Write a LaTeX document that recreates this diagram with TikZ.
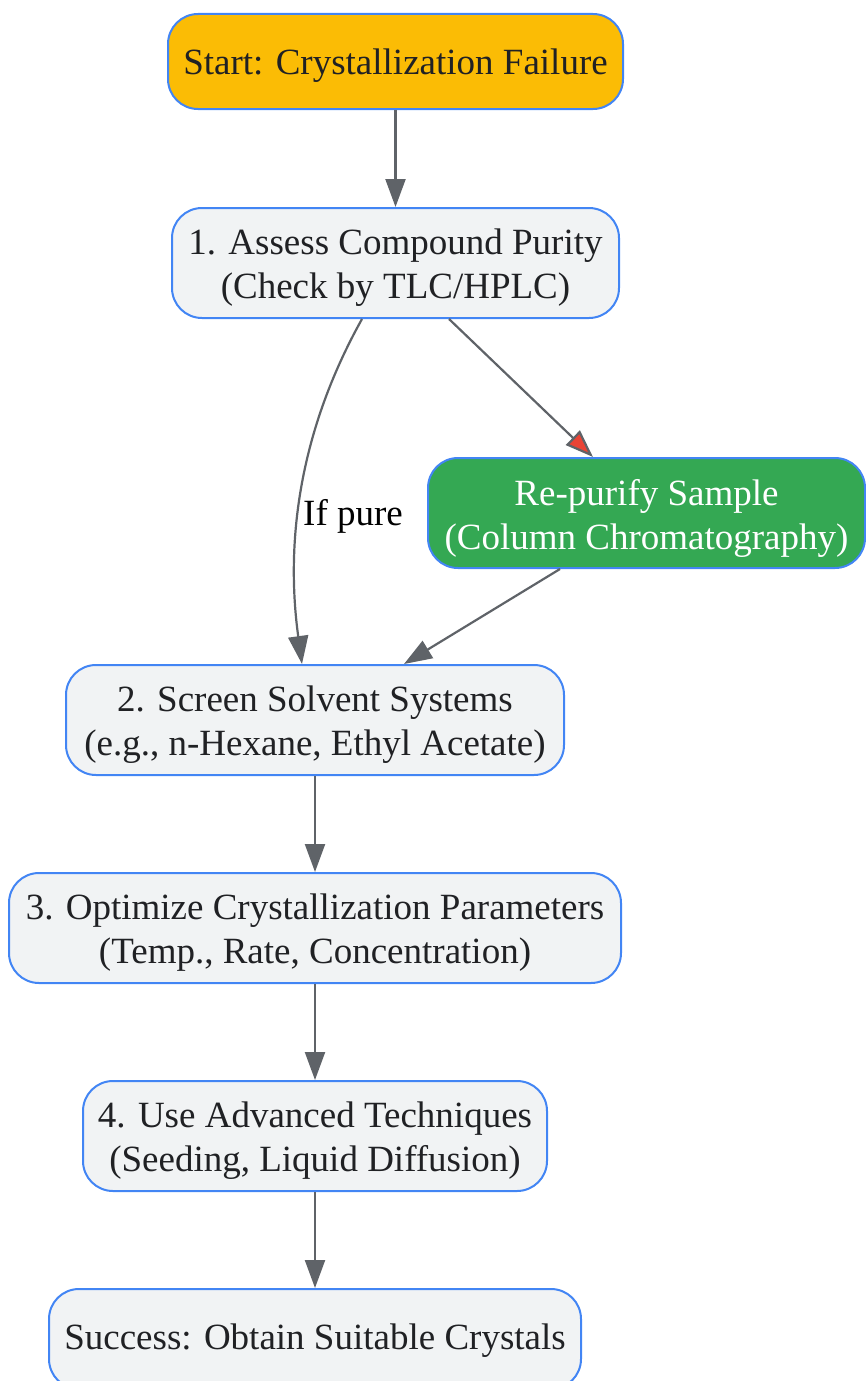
\documentclass[tikz,border=0pt]{standalone}
\usepackage{fontspec}
\setmainfont{Liberation Serif}
\usetikzlibrary{arrows.meta}
\definecolor{bordblue}{HTML}{4285F4}
\definecolor{startyel}{HTML}{FBBC05}
\definecolor{boxgray}{HTML}{F1F3F4}
\definecolor{okgreen}{HTML}{34A853}
\definecolor{arrgray}{HTML}{5F6368}
\definecolor{txtdark}{HTML}{202124}
\definecolor{tipred}{HTML}{EA4335}
\tikzset{
  stepbox/.style={draw=bordblue, line width=2pt, rounded corners=30pt, fill=boxgray, inner sep=0pt},
  boxtext/.style={text=txtdark, align=center, inner sep=0pt, font=\fontsize{37}{44}\selectfont},
  conn/.style={draw=arrgray, line width=2.2pt, -{Triangle[length=28pt,width=20pt]}},
  redconn/.style={draw=arrgray, line width=2.2pt, -{Triangle[length=28pt,width=20pt,fill=tipred]}},
}
\begin{document}
\begin{tikzpicture}[x=1pt,y=-1pt]
\useasboundingbox (0,0) rectangle (865,1381);
\node[stepbox, fill=startyel, minimum width=455pt, minimum height=95pt] (start) at (395.5,61.5) {};
\node[stepbox, minimum width=447pt, minimum height=110pt] (n1) at (395.5,263) {};
\node[stepbox, fill=okgreen, minimum width=437pt, minimum height=110pt] (rp) at (646.5,513) {};
\node[stepbox, minimum width=498pt, minimum height=110pt] (n2) at (315,720) {};
\node[stepbox, minimum width=612pt, minimum height=110pt] (n3) at (315,928) {};
\node[stepbox, minimum width=464pt, minimum height=110pt] (n4) at (315,1136) {};
\node[stepbox, minimum width=532pt, minimum height=100pt] (ok) at (315,1339) {};

\node[boxtext] (startt) at ([yshift=-4pt]start.center) {Start: Crystallization Failure};
\node[boxtext] (n1t) at ([yshift=-5pt]n1.center) {1. Assess Compound Purity\\(Check by TLC/HPLC)};
\node[boxtext, text=white] (rpt) at ([yshift=-5pt]rp.center) {Re-purify Sample\\(Column Chromatography)};
\node[boxtext] (n2t) at ([yshift=-5pt]n2.center) {2. Screen Solvent Systems\\(e.g., n-Hexane, Ethyl Acetate)};
\node[boxtext] (n3t) at ([yshift=-5pt]n3.center) {3. Optimize Crystallization Parameters\\(Temp., Rate, Concentration)};
\node[boxtext] (n4t) at ([yshift=-5pt]n4.center) {4. Use Advanced Techniques\\(Seeding, Liquid Diffusion)};
\node[boxtext] (okt) at ([yshift=-2pt]ok.center) {Success: Obtain Suitable Crystals};

\draw[conn] (start) -- (n1);
\draw[redconn] ([xshift=53.5pt]n1.south) -- ([xshift=-53.5pt]rp.north);
\draw[conn] ([xshift=-33.5pt]n1.south) .. controls (300,430) and (285,540) .. ([xshift=-13pt]n2.north);
\node[boxtext, text=black] (lbl) at (353,516) {If pure};
\draw[conn] ([xshift=-86.5pt]rp.south) -- ([xshift=89pt]n2.north);
\draw[conn] (n2) -- (n3);
\draw[conn] (n3) -- (n4);
\draw[conn] (n4) -- (ok);
\end{tikzpicture}
\end{document}
